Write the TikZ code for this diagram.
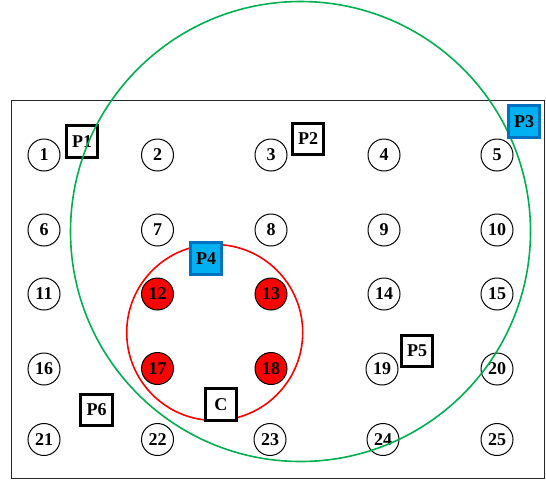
\documentclass[tikz,border=0pt]{standalone}
\usepackage{fontspec}
\setmainfont{Liberation Serif}
\definecolor{ggreen}{HTML}{00B050}
\definecolor{bfill}{HTML}{00B0F0}
\definecolor{bdraw}{HTML}{0070C0}
\begin{document}
\begin{tikzpicture}[x=1pt,y=-1pt,
  site/.style={circle,draw=black,line width=1pt,minimum size=32pt,inner sep=0pt,font=\fontsize{18}{20}\selectfont\bfseries},
  hot/.style={site,fill=red},
  pbox/.style={rectangle,draw=black,line width=3pt,minimum width=31.5pt,minimum height=31.5pt,inner sep=0pt,fill=white,font=\fontsize{18}{20}\selectfont\bfseries},
  bluebox/.style={pbox,fill=bfill,draw=bdraw},
  zone/.style={circle,line width=1.6pt,inner sep=0pt}]
\useasboundingbox (0,0) rectangle (546,482);
\node[draw=black!85,line width=1pt,rectangle,minimum width=532.5pt,minimum height=378pt,inner sep=0pt] (frame) at (277.75,289.5) {};
% grid of sites
\node[site] (n1) at (44,155) {1};
\node[site] (n2) at (157.5,155) {2};
\node[site] (n3) at (271,155) {3};
\node[site] (n4) at (384,155) {4};
\node[site] (n5) at (497,155) {5};
\node[site] (n6) at (44,230) {6};
\node[site] (n7) at (157.5,230) {7};
\node[site] (n8) at (271,230) {8};
\node[site] (n9) at (384,230) {9};
\node[site] (n10) at (497,230) {10};
\node[site] (n11) at (44,294) {11};
\node[hot] (n12) at (157.5,294) {12};
\node[hot] (n13) at (271,294) {13};
\node[site] (n14) at (384,294) {14};
\node[site] (n15) at (497,294) {15};
\node[site] (n16) at (44,369) {16};
\node[hot] (n17) at (157.5,368.5) {17};
\node[hot] (n18) at (271,368.5) {18};
\node[site] (n19) at (382,369) {19};
\node[site] (n20) at (497,369) {20};
\node[site] (n21) at (44,439.5) {21};
\node[site] (n22) at (157.5,439.5) {22};
\node[site] (n23) at (270,439.5) {23};
\node[site] (n24) at (383,439.5) {24};
\node[site] (n25) at (497,439.5) {25};
% boxes
\node[pbox] (p1) at (82,141.5) {P1};
\node[pbox] (p2) at (308,139) {P2};
\node[pbox] (p5) at (417,351) {P5};
\node[pbox] (p6) at (96.5,410) {P6};
% zones
\node[zone,draw=ggreen,minimum size=460pt] (gz) at (300.5,231.5) {};
\node[zone,draw=red,minimum size=176pt] (rz) at (214.7,332.5) {};
\node[bluebox] (p3) at (524,121.5) {P3};
\node[bluebox] (p4) at (206,258.5) {P4};
\node[pbox] (c) at (220.8,404.5) {C};
\end{tikzpicture}
\end{document}
